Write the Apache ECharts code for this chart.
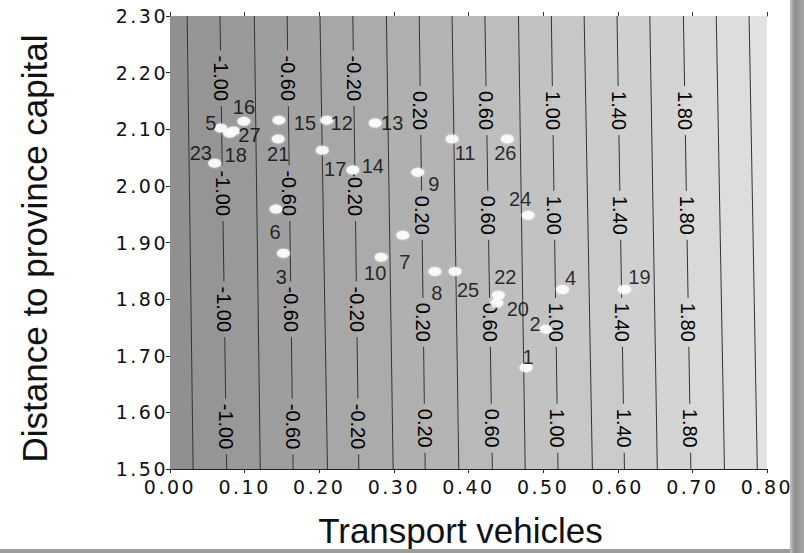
<!DOCTYPE html>
<html>
<head>
<meta charset="utf-8">
<script src="https://cdn.jsdelivr.net/npm/echarts@6/dist/echarts.min.js"></script>
<style>
  html, body { margin: 0; padding: 0; background: #fff; }
  #chart { width: 804px; height: 553px; }
  /* tick labels use DejaVu Sans with a wide tracking */
  #chart svg text[style*="DejaVu"] { letter-spacing: 2.5px; }
</style>
</head>
<body>
<div id="chart"></div>
<script>
// Contour levels of the fitted surface and the x position where each level
// line meets the top edge (y = 2.30) and the bottom edge (y = 1.50).
const contourLevels  = [-1.2, -1.0, -0.8, -0.6, -0.4, -0.2, 0.0, 0.2, 0.4, 0.6, 0.8, 1.0, 1.2, 1.4, 1.6, 1.8, 2.0, 2.2];
const contourXTop    = [0.023, 0.067, 0.113, 0.157, 0.201, 0.245, 0.290, 0.334, 0.378, 0.422, 0.467, 0.511, 0.555, 0.599, 0.643, 0.688, 0.732, 0.776];
const contourXBottom = [0.031, 0.076, 0.121, 0.165, 0.211, 0.253, 0.299, 0.342, 0.387, 0.432, 0.476, 0.520, 0.566, 0.609, 0.653, 0.698, 0.743, 0.787];
const labeledLevels  = [-1.0, -0.6, -0.2, 0.2, 0.6, 1.0, 1.4, 1.8];

// Observations: id, transport vehicles (x), distance to province capital (y)
const pointIds = [1, 2, 3, 4, 5, 6, 7, 8, 9, 10, 11, 12, 13, 14, 15, 16, 17, 18, 19, 20, 21, 22, 23, 24, 25, 26, 27];
const pointX   = [0.477, 0.504, 0.152, 0.526, 0.068, 0.142, 0.312, 0.355, 0.332, 0.283, 0.378, 0.210, 0.275, 0.245, 0.146, 0.099, 0.204, 0.080, 0.609, 0.438, 0.145, 0.440, 0.060, 0.480, 0.382, 0.452, 0.085];
const pointY   = [1.679, 1.747, 1.881, 1.817, 2.102, 1.959, 1.913, 1.849, 2.024, 1.874, 2.083, 2.116, 2.111, 2.028, 2.116, 2.114, 2.063, 2.093, 1.817, 1.793, 2.083, 1.807, 2.040, 1.948, 1.849, 2.083, 2.097];

// Axis ranges
const xMin = 0.0, xMax = 0.8, xStep = 0.1;
const yMin = 1.5, yMax = 2.3, yStep = 0.1;

// ---- layout / styling ----
// rows (in y units) at which contour labels sit, for negative and positive levels
const labelRowsNeg = [2.190, 1.987, 1.782, 1.575];
const labelRowsPos = [2.133, 1.948, 1.759, 1.572];
// pixel offset of each point's id label from its marker
const idLabelOffset = {
  1: [2, -11], 2: [-11, -5], 3: [-2, 24], 4: [8, -11], 5: [-10, -5], 6: [-1, 23],
  7: [2, 27], 8: [2, 22], 9: [16, 12], 10: [-6, 16], 11: [13, 14], 12: [15, 3],
  13: [17, 0], 14: [20, -4], 15: [26, 3], 16: [0, -14], 17: [13, 19], 18: [6, 22],
  19: [15, -12], 20: [21, 6], 21: [0, 15], 22: [7, -18], 23: [-14, -10], 24: [-8, -16],
  25: [13, 19], 26: [-2, 14], 27: [16, 4]
};

const FONT = "'Liberation Sans', Arial, sans-serif";
const contourFontSize = 20;

function bandColor(k) {
  const n = contourLevels.length;
  const g = Math.round(144 + k * (82 / n));
  return 'rgb(' + g + ',' + g + ',' + g + ')';
}

function bandCorners(k) {
  const n = contourLevels.length;
  const l = k === 0 ? [xMin, xMin] : [contourXTop[k - 1], contourXBottom[k - 1]];
  const r = k === n ? [xMax, xMax] : [contourXTop[k], contourXBottom[k]];
  return [[l[0], yMax], [r[0], yMax], [r[1], yMin], [l[1], yMin]];
}

const measureCtx = document.createElement('canvas').getContext('2d');
measureCtx.font = contourFontSize + 'px ' + FONT;

const bandData = [];
for (let k = 0; k <= contourLevels.length; k++) bandData.push([k]);
const lineData = contourLevels.map((lv, i) => [i]);
const pointData = pointIds.map((id, i) => ({
  value: [pointX[i], pointY[i]],
  name: String(id)
}));

const chart = echarts.init(document.getElementById('chart'), null, { renderer: 'svg' });

const tickLabel = {
  fontFamily: "'DejaVu Sans'",
  fontSize: 19,
  color: '#111'
};

chart.setOption({
  animation: false,
  backgroundColor: '#fff',
  grid: { left: 170, top: 16, width: 597, height: 453 },
  xAxis: [{
    type: 'value', min: xMin, max: xMax, interval: xStep, position: 'bottom',
    name: 'Transport vehicles', nameLocation: 'middle', nameGap: 44,
    nameTextStyle: { fontFamily: FONT, fontSize: 35, color: '#111', padding: [0, 16, 0, 0] },
    axisLine: { show: true, lineStyle: { color: '#222', width: 1 } },
    axisTick: { show: true, length: 4, lineStyle: { color: '#222' } },
    axisLabel: Object.assign({ margin: 8, interval: 0, formatter: v => v.toFixed(2) }, tickLabel),
    splitLine: { show: false }
  }, {
    type: 'value', min: xMin, max: xMax, interval: xStep, position: 'top',
    axisLine: { show: true, lineStyle: { color: '#333', width: 1 } },
    axisTick: { show: true, length: 4, lineStyle: { color: '#333' } },
    axisLabel: { show: false }, splitLine: { show: false }
  }],
  yAxis: [{
    type: 'value', min: yMin, max: yMax, interval: yStep, position: 'left',
    name: 'Distance to province capital', nameLocation: 'middle', nameGap: 118,
    nameTextStyle: { fontFamily: FONT, fontSize: 35, color: '#111', padding: [0, 12, 0, 0] },
    axisLine: { show: true, lineStyle: { color: '#222', width: 1 } },
    axisTick: { show: true, length: 4, lineStyle: { color: '#222' } },
    axisLabel: Object.assign({ margin: 2, interval: 0, formatter: v => v.toFixed(2) }, tickLabel),
    splitLine: { show: false }
  }, {
    type: 'value', min: yMin, max: yMax, interval: yStep, position: 'right',
    axisLine: { show: true, lineStyle: { color: '#333', width: 1 } },
    axisTick: { show: true, length: 4, lineStyle: { color: '#333' } },
    axisLabel: { show: false }, splitLine: { show: false }
  }],
  graphic: [
    // drop shadow of the figure frame
    {
      type: 'rect', left: 790, top: 0, z: 100,
      shape: { width: 14, height: 553 },
      style: { fill: new echarts.graphic.LinearGradient(0, 0, 1, 0, [
        { offset: 0, color: '#c4c4c4' }, { offset: 0.35, color: '#8e8e8e' }, { offset: 1, color: '#a6a6a6' }
      ]) }
    },
    {
      type: 'rect', left: 0, top: 549, z: 100,
      shape: { width: 790, height: 4 },
      style: { fill: '#9c9c9c' }
    }
  ],
  series: [
    {
      // filled bands between neighbouring contour levels
      type: 'custom', xAxisIndex: 0, yAxisIndex: 0, clip: true, silent: true, z: 1,
      data: bandData,
      renderItem(params, api) {
        const k = api.value(0);
        const pts = bandCorners(k).map(p => api.coord(p));
        const c = bandColor(k);
        return { type: 'polygon', shape: { points: pts }, style: { fill: c, stroke: c, lineWidth: 0.6 } };
      }
    },
    {
      // contour lines, broken where a level label sits on them
      type: 'custom', xAxisIndex: 0, yAxisIndex: 0, clip: true, silent: true, z: 2,
      data: lineData,
      renderItem(params, api) {
        const i = api.value(0);
        const level = contourLevels[i];
        const top = api.coord([contourXTop[i], yMax]);
        const bot = api.coord([contourXBottom[i], yMin]);
        const atY = py => {
          const t = (py - top[1]) / (bot[1] - top[1]);
          return top[0] + t * (bot[0] - top[0]);
        };
        const lineStyle = { stroke: '#333', lineWidth: 1, fill: null };
        const labeled = labeledLevels.some(v => Math.abs(v - level) < 1e-9);
        const children = [];
        if (!labeled) {
          children.push({ type: 'line', shape: { x1: top[0], y1: top[1], x2: bot[0], y2: bot[1] }, style: lineStyle });
          return { type: 'group', children };
        }
        const text = level.toFixed(2);
        const half = measureCtx.measureText(text).width / 2 + 5;
        const rows = (level < 0 ? labelRowsNeg : labelRowsPos).map(y => api.coord([xMin, y])[1]).sort((a, b) => a - b);
        let y0 = top[1];
        rows.forEach(py => {
          const ya = py - half, yb = py + half;
          children.push({ type: 'line', shape: { x1: atY(y0), y1: y0, x2: atY(ya), y2: ya }, style: lineStyle });
          children.push({
            type: 'text', x: atY(py), y: py, rotation: -Math.PI / 2,
            style: { text, fontFamily: FONT, fontSize: contourFontSize, fill: '#000', align: 'center', verticalAlign: 'middle' }
          });
          y0 = yb;
        });
        children.push({ type: 'line', shape: { x1: atY(y0), y1: y0, x2: bot[0], y2: bot[1] }, style: lineStyle });
        return { type: 'group', children };
      }
    },
    {
      type: 'scatter', xAxisIndex: 0, yAxisIndex: 0, z: 5,
      symbol: 'circle', symbolSize: [13, 9],
      itemStyle: { color: '#ffffff', shadowColor: 'rgba(255,255,255,0.8)', shadowBlur: 2 },
      label: {
        show: true, position: 'inside', formatter: p => p.name,
        fontFamily: FONT, fontSize: 20, color: '#000',
        textBorderWidth: 0, textBorderColor: 'transparent'
      },
      labelLayout(params) {
        const off = idLabelOffset[pointIds[params.dataIndex]] || [0, 0];
        return { dx: off[0], dy: off[1], hideOverlap: false };
      },
      data: pointData
    }
  ]
});
</script>
</body>
</html>
